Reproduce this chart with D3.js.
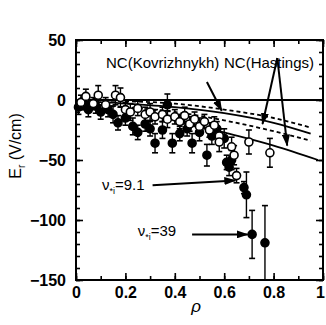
<!DOCTYPE html>
<html>
<head>
<meta charset="utf-8">
<script src="https://cdn.jsdelivr.net/npm/d3@7"></script>
<style>
  body { margin: 0; background: #fff; }
  text { font-family: "Liberation Sans", Arial, sans-serif; fill: #000; }
</style>
</head>
<body>
<div id="chart-area"></div>
<script>
/*
*    Er profile vs rho
*/

// open circles: [rho, Er, err]
var openPts = [
    [0.02, -2, 6], [0.04, 3, 6], [0.07, -3, 5], [0.09, 4, 8], [0.12, -4, 6],
    [0.16, 4, 8], [0.18, 2, 8], [0.20, -8, 6], [0.22, -10, 7], [0.25, -7, 6],
    [0.28, -12, 6], [0.30, -10, 7], [0.32, -14, 6], [0.35, -12, 6], [0.37, -16, 7],
    [0.40, -14, 6], [0.42, -18, 6], [0.44, -13, 7], [0.46, -20, 6], [0.48, -16, 6],
    [0.50, -22, 7], [0.52, -18, 6], [0.54, -25, 6], [0.56, -21, 7], [0.58, -30, 6],
    [0.58, -35, 8], [0.63, -39, 8], [0.64, -46, 8], [0.65, -63, 6], [0.70, -35, 10],
    [0.785, -44, 12]
];

// filled circles: [rho, Er, err]
var filledPts = [
    [0.01, -6, 6], [0.03, -3, 5], [0.05, -8, 6], [0.08, -5, 6], [0.10, -10, 6],
    [0.13, -8, 6], [0.15, -12, 7], [0.17, -19, 6], [0.20, -15, 6], [0.23, -22, 7],
    [0.25, -27, 6], [0.28, -20, 6], [0.30, -24, 6], [0.32, -36, 8], [0.35, -25, 7],
    [0.37, -4, 9], [0.39, -36, 8], [0.42, -28, 6], [0.45, -24, 6], [0.47, -36, 8],
    [0.50, -27, 7], [0.53, -46, 9], [0.55, -30, 7], [0.57, -24, 6], [0.60, -32, 8],
    [0.61, -52, 6], [0.62, -56, 7], [0.63, -50, 8], [0.68, -73, 5], [0.69, -79, 19],
    [0.713, -112, 20], [0.765, -119, 31]
];

// neoclassical curves
var curveRho  = [0, 0.2, 0.4, 0.6, 0.8, 0.95];
var kovEr     = [-1, -3, -6, -11, -19, -28];
var kovUpper  = [0, -1, -3, -8, -15, -23];
var kovLower  = [-3, -6, -10, -17, -26, -34];
var hastRho   = [0.3, 0.45, 0.6, 0.8, 0.98];
var hastEr    = [-12, -19, -27, -38, -50];

var xTicks = [0, 0.2, 0.4, 0.6, 0.8, 1];
var yTicks = [50, 0, -50, -100, -150];

var margin = {top: 40, right: 3, bottom: 45, left: 76},
    width = 326 - margin.left - margin.right,
    height = 325 - margin.top - margin.bottom;

var svg = d3.select("#chart-area").append("svg")
    .attr("width", 326)
    .attr("height", 325);

var defs = svg.append("defs");
defs.append("marker")
    .attr("id", "head")
    .attr("viewBox", "0 0 12 8")
    .attr("refX", 11).attr("refY", 4)
    .attr("markerWidth", 6).attr("markerHeight", 4)
    .attr("markerUnits", "strokeWidth")
    .attr("orient", "auto")
  .append("path")
    .attr("d", "M0,0 L12,4 L0,8 Z")
    .attr("fill", "#000");

var g = svg.append("g")
    .attr("transform", "translate(" + margin.left + "," + margin.top + ")");

// Scales
var x = d3.scaleLinear().domain([0, 1]).range([0, width]);
var y = d3.scaleLinear().domain([-150, 50]).range([height, 0]);

// minor ticks
var xMinor = d3.range(0, 1.001, 0.1);
var yMinor = d3.range(-150, 50.1, 10);

function tickAxis(axis, vals, size) {
    return axis.tickValues(vals).tickSize(-size).tickFormat("");
}

g.append("g").attr("transform", "translate(0," + height + ")")
    .call(tickAxis(d3.axisBottom(x), xMinor, 4));
g.append("g").call(tickAxis(d3.axisTop(x), xMinor, 4));
g.append("g").call(tickAxis(d3.axisLeft(y), yMinor, 4));
g.append("g").attr("transform", "translate(" + width + ",0)")
    .call(tickAxis(d3.axisRight(y), yMinor, 4));

var xAxis = g.append("g").attr("transform", "translate(0," + height + ")")
    .call(d3.axisBottom(x).tickValues(xTicks).tickSize(-7).tickPadding(7)
        .tickFormat(function(d) { return d === 0 || d === 1 ? d : d3.format(".1f")(d); }));
// keep the "1" inside the window
xAxis.selectAll(".tick text").filter(function(d) { return d === 1; })
    .attr("dx", -3);
g.append("g")
    .call(d3.axisLeft(y).tickValues(yTicks).tickSize(-7).tickPadding(10));
g.append("g").call(tickAxis(d3.axisTop(x), xTicks, 7));
g.append("g").attr("transform", "translate(" + width + ",0)")
    .call(tickAxis(d3.axisRight(y), yTicks, 7));

g.selectAll(".domain").remove();
g.selectAll(".tick line").attr("stroke", "#000").attr("stroke-width", 1.6);
g.selectAll(".tick text")
    .style("font-size", "16px")
    .style("font-weight", "bold")
    .style("font-family", "'Liberation Sans', Arial, sans-serif");

// frame
g.append("rect")
    .attr("width", width).attr("height", height)
    .attr("fill", "none").attr("stroke", "#000").attr("stroke-width", 2);

// zero line
g.append("line")
    .attr("x1", x(0)).attr("x2", x(1))
    .attr("y1", y(0)).attr("y2", y(0))
    .attr("stroke", "#000").attr("stroke-width", 2);

// curves
var line = d3.line()
    .x(function(d) { return x(d[0]); })
    .y(function(d) { return y(d[1]); })
    .curve(d3.curveMonotoneX);

function drawCurve(xs, ys, dash) {
    g.append("path")
        .attr("d", line(d3.zip(xs, ys)))
        .attr("fill", "none")
        .attr("stroke", "#000")
        .attr("stroke-width", 1.8)
        .attr("stroke-dasharray", dash);
}
drawCurve(curveRho, kovUpper, "4,3");
drawCurve(curveRho, kovLower, "4,3");
drawCurve(curveRho, kovEr, null);
drawCurve(hastRho, hastEr, null);

// error bars + markers
function drawPoints(pts, fill) {
    var grp = g.append("g");
    pts.forEach(function(d) {
        var cx = x(d[0]);
        var top = Math.max(y(d[1] + d[2]), 0),
            bot = Math.min(y(d[1] - d[2]), height);
        grp.append("line")
            .attr("x1", cx).attr("x2", cx).attr("y1", top).attr("y2", bot)
            .attr("stroke", "#000").attr("stroke-width", 1.4);
        [top, bot].forEach(function(yy) {
            if (yy <= 0 || yy >= height) return;
            grp.append("line")
                .attr("x1", cx - 3).attr("x2", cx + 3).attr("y1", yy).attr("y2", yy)
                .attr("stroke", "#000").attr("stroke-width", 1.6);
        });
    });
    grp.selectAll("circle").data(pts).enter().append("circle")
        .attr("cx", function(d) { return x(d[0]); })
        .attr("cy", function(d) { return y(d[1]); })
        .attr("r", 4)
        .attr("fill", fill)
        .attr("stroke", "#000")
        .attr("stroke-width", 1.6);
}
drawPoints(filledPts, "#000");
drawPoints(openPts, "#fff");

// labels for the curves
g.append("text")
    .attr("x", 106 - margin.left).attr("y", 68 - margin.top)
    .style("font-size", "15px")
    .text("NC(Kovrizhnykh)");
g.append("text")
    .attr("x", 224 - margin.left).attr("y", 68 - margin.top)
    .style("font-size", "15px")
    .text("NC(Hastings)");

function arrow(x1, y1, x2, y2) {
    g.append("line")
        .attr("x1", x(x1)).attr("y1", y(y1))
        .attr("x2", x(x2)).attr("y2", y(y2))
        .attr("stroke", "#000").attr("stroke-width", 2)
        .attr("marker-end", "url(#head)");
}
// Kovrizhnykh arrow
arrow(0.53, 15, 0.59, -9);
// Hastings arrows
arrow(0.815, 35, 0.755, -20);
arrow(0.815, 35, 0.855, -38);

// collisionality annotations
function nuLabel(px, py, val) {
    var t = g.append("text")
        .attr("x", px).attr("y", py)
        .style("font-size", "15px");
    t.append("tspan").text("\u03bd");
    t.append("tspan").attr("dy", 4).style("font-size", "9px").text("*i");
    t.append("tspan").attr("dy", -4).text("=" + val);
}
nuLabel(x(0.105), y(-75), "9.1");
nuLabel(x(0.25), y(-113), "39");
arrow(0.31, -71, 0.645, -67);
arrow(0.47, -112, 0.695, -112);

// axis titles
var yl = svg.append("text")
    .attr("transform", "translate(21,146) rotate(-90)")
    .attr("text-anchor", "middle")
    .style("font-size", "16px");
yl.append("tspan").text("E");
yl.append("tspan").attr("dy", 4).style("font-size", "10px").text("r");
yl.append("tspan").attr("dy", -4).text(" (V/cm)");

svg.append("text")
    .attr("x", 196).attr("y", 312)
    .attr("text-anchor", "middle")
    .style("font-size", "17px")
    .style("font-style", "italic")
    .text("\u03c1");
</script>
</body>
</html>
